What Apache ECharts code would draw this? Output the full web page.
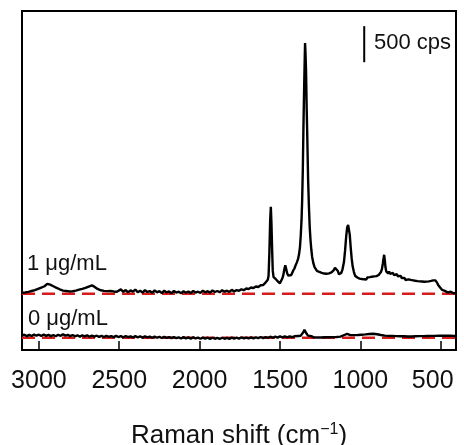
<!DOCTYPE html>
<html>
<head>
<meta charset="utf-8">
<script src="https://cdn.jsdelivr.net/npm/echarts@6/dist/echarts.min.js"></script>
<style>
  html, body { margin: 0; padding: 0; background: #fff; }
  #chart { width: 464px; height: 445px; }
</style>
</head>
<body>
<div id="chart"></div>
<script>
// Raman shift (cm-1) vs intensity (cps), spectra stacked with offsets
const spec1 = [
  [3105, 795], [3095, 815], [3085, 798], [3075, 820], [3065, 806], [3055, 830], [3045, 818],
  [3035, 838], [3025, 830], [3015, 852], [3005, 848], [2995, 872], [2985, 866], [2975, 888],
  [2965, 884], [2955, 905], [2948, 918], [2940, 900], [2930, 906], [2920, 882], [2910, 884],
  [2900, 860], [2890, 862], [2880, 838], [2870, 842], [2860, 818], [2850, 824], [2840, 802],
  [2830, 818], [2820, 796], [2810, 812], [2800, 792], [2790, 815], [2780, 800], [2770, 824],
  [2760, 812], [2750, 836], [2740, 826], [2730, 848], [2720, 840], [2710, 862], [2700, 858],
  [2690, 880], [2680, 876], [2670, 896], [2662, 900], [2655, 878], [2645, 870], [2635, 846],
  [2625, 850], [2615, 828], [2605, 842], [2595, 820], [2585, 838], [2575, 816], [2565, 840],
  [2555, 818], [2545, 834], [2535, 812], [2525, 830], [2515, 808], [2505, 828],
  [2490, 840], [2475, 806], [2460, 832], [2445, 798], [2430, 826], [2415, 810], [2400, 838],
  [2385, 800], [2370, 822], [2355, 796], [2340, 830], [2325, 804], [2310, 818], [2295, 792],
  [2280, 826], [2265, 800], [2250, 815], [2235, 790], [2220, 822], [2205, 798], [2190, 812],
  [2175, 788], [2160, 818], [2145, 796], [2130, 808], [2115, 786], [2100, 815], [2085, 794],
  [2070, 812], [2055, 790], [2040, 820], [2025, 796], [2010, 808], [1995, 792], [1980, 822],
  [1965, 800], [1950, 815], [1935, 796], [1920, 826], [1905, 804], [1890, 818], [1875, 800],
  [1860, 830], [1845, 808], [1830, 822], [1815, 806], [1800, 834], [1785, 812], [1770, 830],
  [1755, 820], [1740, 842], [1725, 830], [1710, 852], [1695, 846], [1680, 866], [1665, 858],
  [1650, 880], [1635, 874], [1620, 898], [1605, 900], [1592, 930], [1582, 948],
  [1576, 975], [1571, 1030], [1566, 1350], [1561, 1800], [1557, 1985], [1553, 1750],
  [1549, 1400], [1545, 1100], [1540, 1010], [1534, 1015], [1527, 985], [1520, 975],
  [1513, 950], [1506, 958], [1500, 925], [1493, 945], [1486, 990], [1480, 1030], [1472, 1130],
  [1467, 1175], [1462, 1130], [1455, 1060], [1448, 1030], [1442, 1005], [1436, 1010],
  [1430, 1040], [1424, 1060], [1418, 1100], [1410, 1130], [1402, 1180], [1395, 1215],
  [1388, 1260], [1382, 1320], [1376, 1420], [1371, 1580], [1366, 1800], [1362, 2080],
  [1358, 2500], [1354, 3100], [1350, 3600], [1346, 4050], [1344, 4255], [1341, 4100],
  [1338, 3880], [1334, 3350], [1331, 3050], [1328, 2700], [1325, 2360], [1320, 1990],
  [1315, 1700], [1310, 1520], [1305, 1390], [1300, 1290],
  [1292, 1200], [1285, 1150], [1278, 1125], [1270, 1098], [1263, 1110], [1255, 1082],
  [1248, 1100], [1240, 1070], [1233, 1092], [1225, 1060], [1218, 1085], [1210, 1058],
  [1202, 1078], [1195, 1062], [1188, 1085], [1180, 1075], [1172, 1100], [1165, 1108],
  [1158, 1140], [1152, 1158], [1146, 1130], [1140, 1095], [1133, 1050], [1126, 1042],
  [1119, 1068], [1112, 1110], [1102, 1220], [1095, 1380], [1088, 1580], [1082, 1700],
  [1076, 1735], [1072, 1720], [1066, 1600], [1060, 1420], [1054, 1270], [1048, 1160],
  [1040, 1080], [1033, 1030], [1026, 1040], [1019, 1005], [1012, 1020], [1005, 990],
  [998, 1012], [991, 985], [984, 1005], [977, 980], [970, 1002], [963, 978], [956, 1006],
  [949, 985], [942, 1010], [935, 990], [928, 1015], [921, 995], [914, 1020], [907, 1000],
  [900, 1025], [893, 1015], [886, 1040], [879, 1045], [872, 1080], [866, 1120], [860, 1200],
  [855, 1280], [852, 1320], [848, 1250], [844, 1150], [839, 1090], [833, 1085], [827, 1060],
  [821, 1088], [815, 1055], [809, 1078], [803, 1048], [797, 1068], [791, 1038], [785, 1060],
  [779, 1030], [773, 1050], [767, 1022], [761, 1040], [755, 1010], [749, 1028], [743, 998],
  [737, 1012], [731, 985], [725, 1000], [719, 970], [713, 988], [707, 962], [700, 980],
  [693, 955], [686, 972], [679, 948], [672, 966], [665, 942], [658, 960], [651, 936],
  [644, 955], [637, 932], [630, 952], [623, 930], [616, 950], [609, 928], [602, 946],
  [595, 926], [588, 948], [581, 930], [574, 952], [567, 936], [560, 958], [553, 944],
  [546, 966], [539, 958], [533, 965], [528, 942], [522, 930], [516, 902], [510, 900],
  [504, 868], [498, 860], [492, 834], [486, 832], [480, 810], [474, 820], [468, 798],
  [462, 815], [456, 796], [450, 812], [444, 792], [438, 808], [432, 788], [426, 806],
  [420, 786], [414, 800], [408, 785], [405, 795]
];

const spec0 = [
  [3105, 198], [3090, 212], [3075, 192], [3060, 210], [3045, 194], [3030, 215], [3015, 198],
  [3000, 212], [2985, 195], [2970, 214], [2955, 196], [2940, 210], [2925, 192], [2910, 208],
  [2895, 190], [2880, 212], [2865, 196], [2850, 218], [2835, 200], [2820, 210], [2805, 192],
  [2790, 208], [2775, 190], [2760, 204], [2745, 186], [2730, 202], [2715, 188], [2700, 204],
  [2685, 184], [2670, 200], [2655, 186], [2640, 198], [2625, 182], [2610, 196], [2595, 180],
  [2580, 198], [2565, 182], [2550, 194], [2535, 178], [2520, 196], [2505, 180], [2490, 192],
  [2475, 176], [2460, 194], [2445, 178], [2430, 190], [2415, 174], [2400, 192], [2385, 176],
  [2370, 188], [2355, 172], [2340, 190], [2325, 174], [2310, 186], [2295, 170], [2280, 186],
  [2265, 170], [2250, 182], [2235, 166], [2220, 184], [2205, 168], [2190, 180], [2175, 164],
  [2160, 180], [2145, 164], [2130, 176], [2115, 160], [2100, 178], [2085, 162], [2070, 174],
  [2055, 158], [2040, 176], [2025, 160], [2010, 172], [1995, 156], [1980, 172], [1965, 158],
  [1950, 170], [1935, 154], [1920, 170], [1905, 156], [1890, 168], [1875, 154], [1860, 170],
  [1845, 156], [1830, 168], [1815, 155], [1800, 172], [1785, 158], [1770, 170], [1755, 158],
  [1740, 174], [1725, 160], [1710, 172], [1695, 160], [1680, 176], [1665, 162], [1650, 176],
  [1635, 164], [1620, 180], [1605, 166], [1590, 180], [1575, 168], [1560, 184], [1545, 170],
  [1530, 184], [1515, 172], [1500, 188], [1485, 174], [1470, 188], [1455, 176], [1440, 190],
  [1425, 178], [1410, 190], [1398, 180], [1385, 194], [1372, 196], [1362, 215], [1355, 245],
  [1348, 280], [1342, 262], [1335, 228], [1326, 200], [1316, 184], [1305, 192], [1292, 176],
  [1280, 190], [1268, 174], [1256, 188], [1244, 174], [1232, 190], [1220, 176], [1208, 190],
  [1196, 176], [1184, 192], [1172, 178], [1160, 192], [1148, 180], [1136, 194], [1124, 186],
  [1112, 200], [1100, 208], [1090, 218], [1082, 224], [1072, 212], [1062, 206], [1052, 196],
  [1040, 206], [1028, 194], [1016, 208], [1004, 198], [992, 212], [980, 204], [968, 216],
  [956, 210], [944, 222], [932, 216], [920, 226], [908, 214], [896, 218], [884, 204],
  [872, 208], [860, 194], [848, 200], [836, 186], [824, 196], [812, 182], [800, 194],
  [788, 180], [776, 192], [764, 178], [752, 190], [740, 176], [728, 190], [716, 176],
  [704, 188], [692, 174], [680, 188], [668, 174], [656, 190], [644, 176], [632, 192],
  [620, 178], [608, 192], [596, 180], [584, 194], [572, 180], [560, 196], [548, 182],
  [536, 196], [524, 184], [512, 198], [500, 184], [488, 198], [476, 186], [464, 200],
  [452, 186], [440, 198], [428, 186], [416, 196], [405, 188]
];

const baseline1 = [[3105, 780], [405, 780]];
const baseline0 = [[3105, 170], [405, 170]];
const scaleBar = [[976, 3990], [976, 4490]];
const xTicks = [500, 1000, 1500, 2000, 2500, 3000];

const font = '"Liberation Sans", Arial, sans-serif';
const textColor = '#111';
const chart = echarts.init(document.getElementById('chart'));

chart.setOption({
  animation: false,
  grid: {
    left: 22, right: 8, top: 11, bottom: 95,
    outerBoundsMode: 'none',
    show: true, borderColor: '#000', borderWidth: 2
  },
  xAxis: {
    type: 'value',
    inverse: true,
    min: 405,
    max: 3105,
    axisLine: { show: false },
    splitLine: { show: false },
    axisTick: {
      inside: true, length: 9,
      lineStyle: { color: '#000', width: 1.5 },
      customValues: xTicks
    },
    axisLabel: {
      customValues: xTicks,
      fontFamily: font, fontSize: 25, color: textColor, margin: 19,
      formatter: v => v === 500 ? '{r|500}' : String(v),
      rich: { r: { fontFamily: font, fontSize: 25, color: textColor, padding: [0, 16, 0, 0] } }
    },
    name: '{a|Raman shift (cm}{s|−1}{a|)}',
    nameLocation: 'middle',
    nameGap: 72,
    nameTextStyle: {
      rich: {
        a: { fontFamily: font, fontSize: 26, color: textColor, lineHeight: 28 },
        s: { fontFamily: font, fontSize: 16, color: textColor, verticalAlign: 'top', lineHeight: 28 }
      }
    }
  },
  yAxis: {
    type: 'value', min: 0, max: 4700,
    show: false
  },
  series: [
    {
      type: 'line', data: baseline1, symbol: 'none', z: 1,
      lineStyle: { color: '#d71a1a', width: 2.5, type: [13, 7] }
    },
    {
      type: 'line', data: baseline0, symbol: 'none', z: 1,
      lineStyle: { color: '#d71a1a', width: 2.5, type: [13, 7] }
    },
    {
      type: 'line', data: spec1, symbol: 'none', z: 2,
      lineStyle: { color: '#000', width: 2.4 }
    },
    {
      type: 'line', data: spec0, symbol: 'none', z: 2,
      lineStyle: { color: '#000', width: 2.4 }
    },
    {
      type: 'line', data: scaleBar, symbol: 'none', z: 2,
      lineStyle: { color: '#000', width: 2 }
    }
  ],
  graphic: [
    { type: 'text', left: 374, top: 32, style: { text: '500 cps', font: '22px ' + font, fill: textColor } },
    { type: 'text', left: 27, top: 253, style: { text: '1 μg/mL', font: '22px ' + font, fill: textColor } },
    { type: 'text', left: 28, top: 308, style: { text: '0 μg/mL', font: '22px ' + font, fill: textColor } }
  ]
});
</script>
</body>
</html>
